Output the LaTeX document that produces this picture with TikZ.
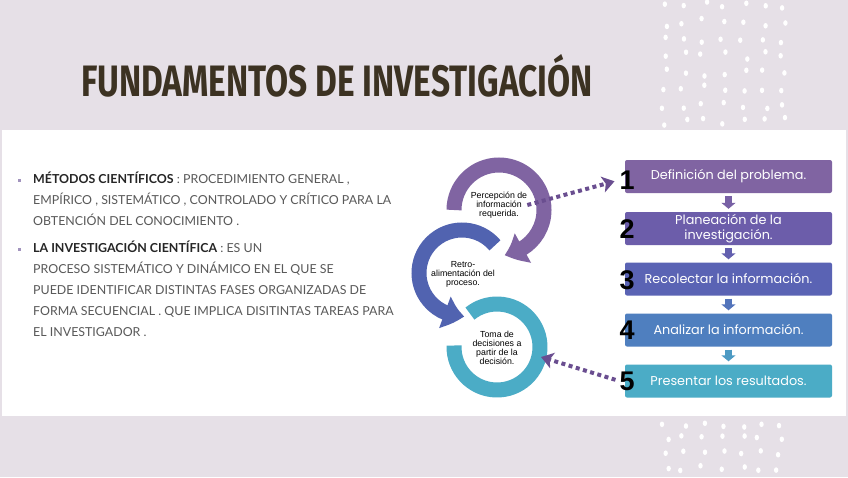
\documentclass[tikz,border=0pt]{standalone}
\usepackage{fontspec}
\usepackage{graphicx}
\usetikzlibrary{arrows.meta,bending,positioning}
\setmainfont{Lato}
\newfontfamily\boxfont{Poppins}
\newfontfamily\ringfont{Liberation Sans}
\newfontfamily\titlefont{Fira Sans}

\definecolor{bgpink}{HTML}{E6E0E7}
\definecolor{titlebrown}{HTML}{3C3222}
\definecolor{bodygray}{HTML}{595959}
\definecolor{bulletc}{HTML}{A294BE}
\definecolor{ringpurple}{HTML}{8064A2}
\definecolor{ringblue}{HTML}{5163B0}
\definecolor{ringteal}{HTML}{4BACC6}
\definecolor{boxtwo}{HTML}{6C5DAA}
\definecolor{boxthree}{HTML}{5A63B4}
\definecolor{boxfour}{HTML}{4F7FBF}
\definecolor{dotpurple}{HTML}{6A4E90}

\tikzset{
  stepbox/.style={fill=#1, rounded corners=2pt, minimum width=207pt, minimum height=33pt,
    text=white, font=\boxfont\fontsize{12.8}{14.5}\selectfont, align=center, inner sep=0pt},
  stepnum/.style={font=\ringfont\bfseries\fontsize{27}{27}\selectfont, text=black, inner sep=0pt},
  ringtext/.style={font=\ringfont\fontsize{8.8}{9}\selectfont, align=center, inner sep=0pt},
  downarrow/.style={draw=#1, line width=7pt, -{Triangle[width=14pt,length=6pt]},
    shorten >=3pt, shorten <=3pt},
  dotarrow/.style={dotpurple, line width=4pt, dash pattern=on 4pt off 3.5pt,
    -{Stealth[width=16pt,length=12pt,inset=3pt]}},
  bodytext/.style={text=bodygray, font=\fontsize{12.4}{21}\selectfont, align=left,
    anchor=north west, inner sep=0pt},
}

\begin{document}
\begin{tikzpicture}[x=1pt,y=-1pt]

\useasboundingbox (0,0) rectangle (848,477);
\fill[bgpink] (0,0) rectangle (848,477);
\fill[white] (2,130) rectangle (846,416);

% dots
\pgfmathsetseed{7}
\foreach \i in {0,...,6}
  \foreach \j in {0,...,7}
    \fill[white] ({664+20*\i+4*rand},{6+16.5*\j+4*rand}) ellipse (2.2 and 2.8);
\foreach \i in {0,...,6}
  \foreach \j in {0,...,3}
    \fill[white] ({665+19*\i+4*rand},{424+14.5*\j+3*rand}) ellipse (2.2 and 2.8);

\node[text=titlebrown, font=\titlefont\bfseries\fontsize{44}{44}\selectfont] (title) at (337,76)
  {\scalebox{0.76}[1]{FUNDAMENTOS DE INVESTIGACIÓN}};

% text on the left
\fill[bulletc] (17.5,178.5) rectangle +(3,3);
\fill[bulletc] (17.5,247.5) rectangle +(3,3);
\node[bodytext] (metodos) at (33,172)
  {\textcolor{black!85}{\textbf{MÉTODOS CIENTÍFICOS}} : PROCEDIMIENTO GENERAL ,\\
   EMPÍRICO , SISTEMÁTICO , CONTROLADO Y CRÍTICO PARA LA\\
   OBTENCIÓN DEL CONOCIMIENTO .};
\node[bodytext] (investigacion) at (33,241)
  {\textcolor{black!85}{\textbf{LA INVESTIGACIÓN CIENTÍFICA}} : ES UN\\
   PROCESO SISTEMÁTICO Y DINÁMICO EN EL QUE SE\\
   PUEDE IDENTIFICAR DISTINTAS FASES ORGANIZADAS DE\\
   FORMA SECUENCIAL . QUE IMPLICA DISITINTAS TAREAS PARA\\
   EL INVESTIGADOR .};

% cycle
\draw[ringteal, line width=15pt] ([shift={(182:43)}]497,347) arc[start angle=182, end angle=-129, radius=43];
\draw[ringblue, line width=15pt, -{Triangle[width=32pt,length=20pt,bend]}]
  ([shift={(-40:43)}]462,273) arc[start angle=-40, end angle=-273, radius=43];
\draw[ringpurple, line width=15pt, -{Triangle[width=32pt,length=20pt,bend]}]
  ([shift={(180:45)}]499,210) arc[start angle=180, end angle=443, radius=45];

\node[ringtext] (percepcion) at (499,205) {Percepción de\\información\\requerida.};
\node[ringtext] (retro) at (463,274) {Retro-\\alimentación del\\proceso.};
\node[ringtext] (toma) at (497,348) {Toma de\\decisiones a\\partir de la\\decisión.};
\coordinate (tomaedge) at (541,357);

% steps
\node[stepbox=ringpurple] (b1) at (728.5,176.5) {Definición del problema.};
\node[stepbox=boxtwo] (b2) at (728.5,228.5) {Planeación de la\\investigación.};
\node[stepbox=boxthree] (b3) at (728.5,279) {Recolectar la información.};
\node[stepbox=boxfour] (b4) at (728.5,330) {Analizar la información.};
\node[stepbox=ringteal] (b5) at (728.5,381) {Presentar los resultados.};

\draw[downarrow=ringpurple!60!boxtwo] (b1) -- (b2);
\draw[downarrow=boxtwo!50!boxthree] (b2) -- (b3);
\draw[downarrow=boxthree!40!boxfour] (b3) -- (b4);
\draw[downarrow=boxfour!40!ringteal] (b4) -- (b5);

\node[stepnum] (n1) at (627,180) {1};
\node[stepnum] (n2) at (627,229) {2};
\node[stepnum] (n3) at (627,280) {3};
\node[stepnum] (n4) at (627,330) {4};
\node[stepnum] (n5) at (627,381) {5};

\draw[dotarrow, shorten >=5pt] (percepcion.east) -- (n1.west);
\draw[dotarrow, shorten <=4pt] (n5.west) -- (tomaedge);

\end{tikzpicture}
\end{document}
